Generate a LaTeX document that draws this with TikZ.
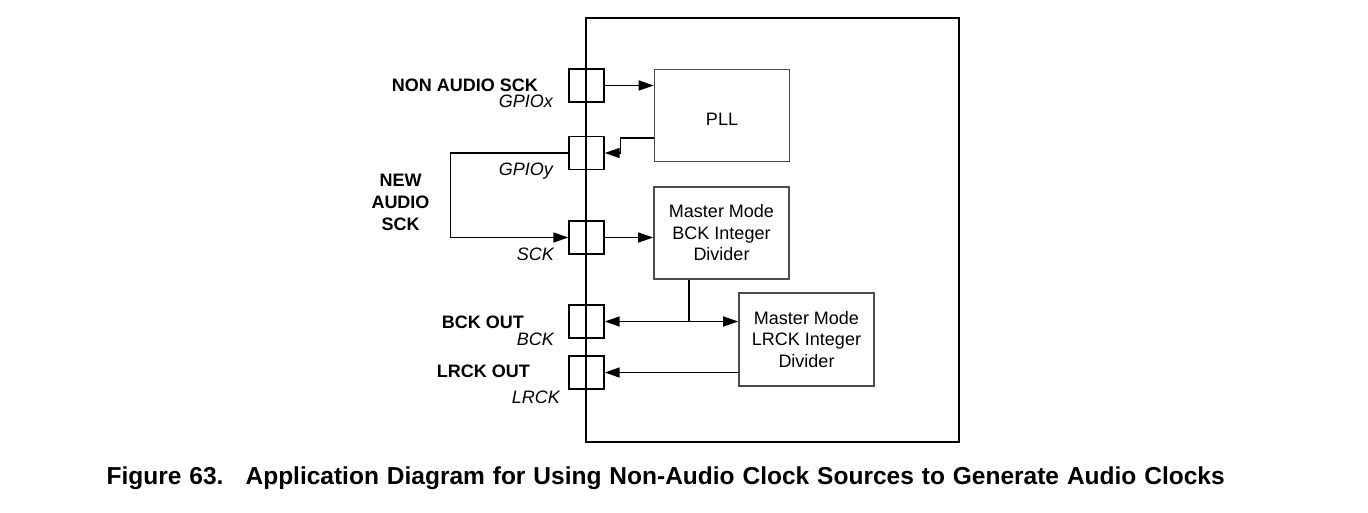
\documentclass[tikz,border=0pt]{standalone}
\usepackage{fontspec}
\setmainfont{Liberation Sans}
\usetikzlibrary{arrows.meta,calc,positioning}

\begin{document}
\begin{tikzpicture}[x=1pt,y=-1pt,
    pin/.style={draw, line width=1.4pt, minimum width=35pt, minimum height=33pt, inner sep=0pt},
    blk/.style={draw=black!70, line width=1.6pt, text=black, inner sep=0pt, align=center,
      font=\fontsize{18}{21.5}\selectfont},
    sig/.style={line width=1.5pt, -{Triangle[length=15pt,width=10pt]}},
    lbl/.style={font=\fontsize{18}{21}\selectfont\bfseries, inner sep=0pt},
    pname/.style={font=\fontsize{18}{21}\selectfont\itshape, inner sep=0pt}]

\useasboundingbox (0,0) rectangle (1368,513);

% Chip outline
\draw[line width=2pt] (586,18) rectangle (959,442);

% Pins on the left edge
\node[pin] (gpiox) at (586.5,85.5) {};
\node[pin] (gpioy) at (586.5,153) {};
\node[pin] (sck) at (586.5,237.5) {};
\node[pin] (bck) at (586.5,321.5) {};
\node[pin] (lrck) at (586.5,372.5) {};

% Blocks
\node[blk, minimum width=135pt, minimum height=92pt] (pll) at (722,115.5)
  {\raisebox{-10.5pt}[0pt][0pt]{PLL}};
\node[blk, minimum width=135pt, minimum height=92pt] (bckdiv) at (721.5,233)
  {Master Mode\\BCK Integer\\Divider};
\node[blk, minimum width=135pt, minimum height=93pt] (lrckdiv) at (806.5,339.5)
  {Master Mode\\LRCK Integer\\Divider};

% Pin labels
\node[lbl, anchor=base east] (nonaudio) at (538,92) {NON AUDIO SCK};
\node[pname, anchor=base east] (gpioxname) at (553,107.5) {GPIOx};
\node[pname, anchor=base east] (gpioyname) at (553,176) {GPIOy};
\node[lbl, align=center, anchor=base, font=\fontsize{18}{22.3}\selectfont\bfseries]
  (newaudio) at (400.5,231) {NEW\\AUDIO\\SCK};
\node[pname, anchor=base east] (sckname) at (554,260) {SCK};
\node[lbl, anchor=base east] (bckout) at (524,328) {BCK OUT};
\node[pname, anchor=base east] (bckname) at (554,345) {BCK};
\node[lbl, anchor=base east] (lrckout) at (530,377.3) {LRCK OUT};
\node[pname, anchor=base east] (lrckname) at (560,403.3) {LRCK};

% Connections
\draw[sig] (gpiox.east) -- (gpiox.east -| pll.west);
\draw[sig] (pll.west |- 0,138) -| ([xshift=16pt]gpioy.east) -- (gpioy.east);
\draw[sig] (gpioy.west) -- ++(-118,0) |- (sck.west);
\draw[sig] (sck.east) -- (sck.east -| bckdiv.west);

\coordinate (split) at (689,321.5);
\draw[line width=1.5pt] (bckdiv.south -| split) -- (split);
\draw[sig] (split) -- (bck.east);
\draw[sig] (split) -- (split -| lrckdiv.west);
\draw[sig] (lrck.east -| lrckdiv.west) -- (lrck.east);

% Caption
\node[anchor=base west, inner sep=0pt, font=\fontsize{24.5}{28}\selectfont\bfseries]
  (caption) at (106.5,484.3)
  {\makebox[1118pt][s]{Figure 63.\hspace{0.9em}Application Diagram for Using Non-Audio Clock Sources to Generate Audio Clocks}};

\end{tikzpicture}
\end{document}
